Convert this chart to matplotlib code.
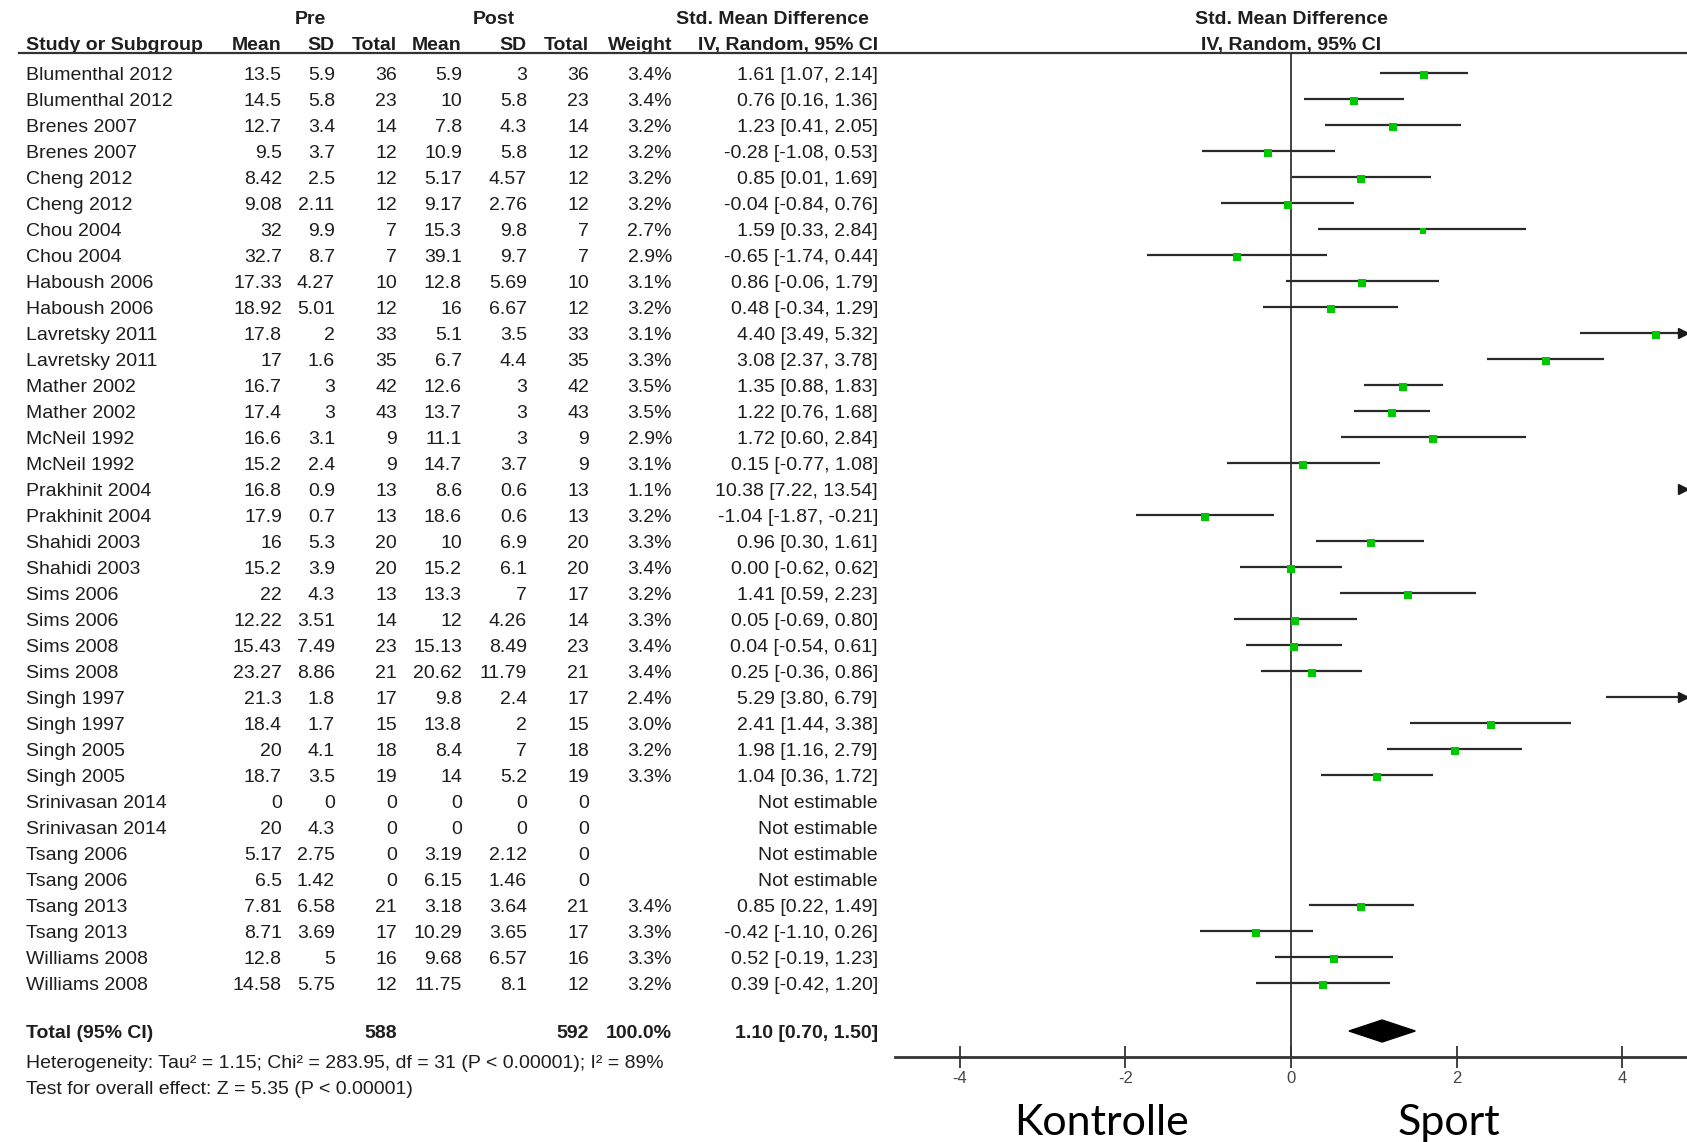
"""Forest plot: Std. mean difference pre vs post (Sport vs Kontrolle)."""

from matplotlib import pyplot as plt
from matplotlib.lines import Line2D

plt.rcParams["font.family"] = ["Liberation Sans", "DejaVu Sans"]

studies = [
    "Blumenthal 2012", "Blumenthal 2012", "Brenes 2007", "Brenes 2007",
    "Cheng 2012", "Cheng 2012", "Chou 2004", "Chou 2004",
    "Haboush 2006", "Haboush 2006", "Lavretsky 2011", "Lavretsky 2011",
    "Mather 2002", "Mather 2002", "McNeil 1992", "McNeil 1992",
    "Prakhinit 2004", "Prakhinit 2004", "Shahidi 2003", "Shahidi 2003",
    "Sims 2006", "Sims 2006", "Sims 2008", "Sims 2008",
    "Singh 1997", "Singh 1997", "Singh 2005", "Singh 2005",
    "Srinivasan 2014", "Srinivasan 2014", "Tsang 2006", "Tsang 2006",
    "Tsang 2013", "Tsang 2013", "Williams 2008", "Williams 2008",
]
pre_mean = [13.5, 14.5, 12.7, 9.5, 8.42, 9.08, 32, 32.7, 17.33, 18.92, 17.8, 17,
            16.7, 17.4, 16.6, 15.2, 16.8, 17.9, 16, 15.2, 22, 12.22, 15.43, 23.27,
            21.3, 18.4, 20, 18.7, 0, 20, 5.17, 6.5, 7.81, 8.71, 12.8, 14.58]
pre_sd = [5.9, 5.8, 3.4, 3.7, 2.5, 2.11, 9.9, 8.7, 4.27, 5.01, 2, 1.6,
          3, 3, 3.1, 2.4, 0.9, 0.7, 5.3, 3.9, 4.3, 3.51, 7.49, 8.86,
          1.8, 1.7, 4.1, 3.5, 0, 4.3, 2.75, 1.42, 6.58, 3.69, 5, 5.75]
pre_n = [36, 23, 14, 12, 12, 12, 7, 7, 10, 12, 33, 35, 42, 43, 9, 9, 13, 13,
         20, 20, 13, 14, 23, 21, 17, 15, 18, 19, 0, 0, 0, 0, 21, 17, 16, 12]
post_mean = [5.9, 10, 7.8, 10.9, 5.17, 9.17, 15.3, 39.1, 12.8, 16, 5.1, 6.7,
             12.6, 13.7, 11.1, 14.7, 8.6, 18.6, 10, 15.2, 13.3, 12, 15.13, 20.62,
             9.8, 13.8, 8.4, 14, 0, 0, 3.19, 6.15, 3.18, 10.29, 9.68, 11.75]
post_sd = [3, 5.8, 4.3, 5.8, 4.57, 2.76, 9.8, 9.7, 5.69, 6.67, 3.5, 4.4,
           3, 3, 3, 3.7, 0.6, 0.6, 6.9, 6.1, 7, 4.26, 8.49, 11.79,
           2.4, 2, 7, 5.2, 0, 0, 2.12, 1.46, 3.64, 3.65, 6.57, 8.1]
post_n = [36, 23, 14, 12, 12, 12, 7, 7, 10, 12, 33, 35, 42, 43, 9, 9, 13, 13,
          20, 20, 17, 14, 23, 21, 17, 15, 18, 19, 0, 0, 0, 0, 21, 17, 16, 12]
weight = [3.4, 3.4, 3.2, 3.2, 3.2, 3.2, 2.7, 2.9, 3.1, 3.2, 3.1, 3.3,
          3.5, 3.5, 2.9, 3.1, 1.1, 3.2, 3.3, 3.4, 3.2, 3.3, 3.4, 3.4,
          2.4, 3.0, 3.2, 3.3, None, None, None, None, 3.4, 3.3, 3.3, 3.2]
smd = [1.61, 0.76, 1.23, -0.28, 0.85, -0.04, 1.59, -0.65, 0.86, 0.48, 4.40, 3.08,
       1.35, 1.22, 1.72, 0.15, 10.38, -1.04, 0.96, 0.00, 1.41, 0.05, 0.04, 0.25,
       5.29, 2.41, 1.98, 1.04, None, None, None, None, 0.85, -0.42, 0.52, 0.39]
ci_low = [1.07, 0.16, 0.41, -1.08, 0.01, -0.84, 0.33, -1.74, -0.06, -0.34, 3.49, 2.37,
          0.88, 0.76, 0.60, -0.77, 7.22, -1.87, 0.30, -0.62, 0.59, -0.69, -0.54, -0.36,
          3.80, 1.44, 1.16, 0.36, None, None, None, None, 0.22, -1.10, -0.19, -0.42]
ci_high = [2.14, 1.36, 2.05, 0.53, 1.69, 0.76, 2.84, 0.44, 1.79, 1.29, 5.32, 3.78,
           1.83, 1.68, 2.84, 1.08, 13.54, -0.21, 1.61, 0.62, 2.23, 0.80, 0.61, 0.86,
           6.79, 3.38, 2.79, 1.72, None, None, None, None, 1.49, 0.26, 1.23, 1.20]

total_pre_n, total_post_n = 588, 592
total_weight = 100.0
total_smd, total_low, total_high = 1.10, 0.70, 1.50
heterogeneity = "Heterogeneity: Tau² = 1.15; Chi² = 283.95, df = 31 (P < 0.00001); I² = 89%"
overall_effect = "Test for overall effect: Z = 5.35 (P < 0.00001)"
x_ticks = [-4, -2, 0, 2, 4]
left_label, right_label = "Kontrolle", "Sport"

W, H = 1687, 1142
TXT = "#1e1e1e"
FS = 14
DY = 2.5  # va="center" sits a bit high, nudge text down


def fmt(v):
    return f"{v:g}"


def main():
    fig = plt.figure(figsize=(W / 100, H / 100), dpi=100)

    # full-figure axes in pixel units for the table part
    tab = fig.add_axes([0, 0, 1, 1])
    tab.set_xlim(0, W)
    tab.set_ylim(H, 0)
    tab.axis("off")

    # column right edges (pixels)
    cols = [282, 335, 397, 462, 527, 589, 672, 878]
    y_h1, y_h2, y_line = 17, 43, 53
    row0, step = 73, 26.0
    rows_y = [row0 + step * i for i in range(len(studies))]
    y_total = 1031

    bold = {"fontsize": FS, "fontweight": "bold", "color": TXT, "va": "center"}
    norm = {"fontsize": FS, "color": TXT, "va": "center"}

    tab.text(310, y_h1 + DY, "Pre", ha="center", **bold)
    tab.text(494, y_h1 + DY, "Post", ha="center", **bold)
    tab.text(772, y_h1 + DY, "Std. Mean Difference", ha="center", **bold)
    tab.text(1291, y_h1 + DY, "Std. Mean Difference", ha="center", **bold)
    tab.text(26, y_h2 + DY, "Study or Subgroup", ha="left", **bold)
    for x, lab in zip(cols, ["Mean", "SD", "Total", "Mean", "SD", "Total",
                             "Weight", "IV, Random, 95% CI"]):
        tab.text(x, y_h2 + DY, lab, ha="right", **bold)
    tab.text(1291, y_h2 + DY, "IV, Random, 95% CI", ha="center", **bold)
    fig.add_artist(Line2D([19 / W, 1], [1 - y_line / H] * 2, color="#333333", lw=1.6))

    for i, y in enumerate(rows_y):
        yt = y + DY
        tab.text(26, yt, studies[i], ha="left", **norm)
        vals = [fmt(pre_mean[i]), fmt(pre_sd[i]), str(pre_n[i]),
                fmt(post_mean[i]), fmt(post_sd[i]), str(post_n[i])]
        for x, v in zip(cols[:6], vals):
            tab.text(x, yt, v, ha="right", **norm)
        if weight[i] is None:
            tab.text(cols[7], yt, "Not estimable", ha="right", **norm)
        else:
            tab.text(cols[6], yt, f"{weight[i]:.1f}%", ha="right", **norm)
            tab.text(cols[7], yt, f"{smd[i]:.2f} [{ci_low[i]:.2f}, {ci_high[i]:.2f}]",
                     ha="right", **norm)

    yt = y_total + DY
    tab.text(26, yt, "Total (95% CI)", ha="left", **bold)
    tab.text(cols[2], yt, str(total_pre_n), ha="right", **bold)
    tab.text(cols[5], yt, str(total_post_n), ha="right", **bold)
    tab.text(cols[6], yt, f"{total_weight:.1f}%", ha="right", **bold)
    tab.text(cols[7], yt, f"{total_smd:.2f} [{total_low:.2f}, {total_high:.2f}]",
             ha="right", **bold)
    tab.text(26, 1061 + DY, heterogeneity, ha="left", fontsize=14, color=TXT, va="center")
    tab.text(26, 1087 + DY, overall_effect, ha="left", fontsize=14, color=TXT, va="center")

    # forest axes
    y_axis = 1057
    ax = fig.add_axes([895 / W, 1 - y_axis / H, (W - 895) / W, (y_axis - y_line) / H])
    x_max = 4.78
    ax.set_xlim(-x_max, x_max)
    ax.set_ylim(y_axis, y_line)
    ax.patch.set_alpha(0)
    for s in ("top", "left", "right"):
        ax.spines[s].set_visible(False)
    ax.spines["bottom"].set_linewidth(2)
    ax.spines["bottom"].set_color("#333333")
    ax.set_yticks([])
    ax.set_xticks(x_ticks, labels=[str(t) for t in x_ticks])
    ax.tick_params(axis="x", direction="inout", length=16, width=1.3, color="#333333",
                   labelsize=12, labelcolor="#444444", pad=2)
    ax.axvline(0, color="#222222", lw=1.2, zorder=1)

    for i, y in enumerate(rows_y):
        if smd[i] is None:
            continue
        lo, hi, m = ci_low[i], ci_high[i], smd[i]
        if lo < x_max:
            ax.plot([lo, min(hi, x_max)], [y, y], color="#2a2a2a", lw=1.6,
                    solid_capstyle="butt", zorder=2)
        if hi > x_max:
            ax.plot(x_max - 0.05, y, marker=">", color="#1a1a1a", markersize=7,
                    clip_on=False, zorder=3)
        if m < x_max:
            ms = 5.5 * (weight[i] / 3.4) ** 0.5
            ax.plot(m, y + 1.5, "s", color="#00c800", markersize=ms,
                    markeredgewidth=0, zorder=3)

    y_d = 1031
    ax.fill([total_low, total_smd, total_high, total_smd],
            [y_d, y_d - 11, y_d, y_d + 11], color="black", zorder=3)

    tab.text(1102, 1123, left_label, ha="center", va="center", fontsize=31,
             family=["Lato", "DejaVu Sans"], color="black")
    tab.text(1449, 1123, right_label, ha="center", va="center", fontsize=31,
             family=["Lato", "DejaVu Sans"], color="black")

    fig.savefig("out.png", dpi=100)


if __name__ == "__main__":
    main()
